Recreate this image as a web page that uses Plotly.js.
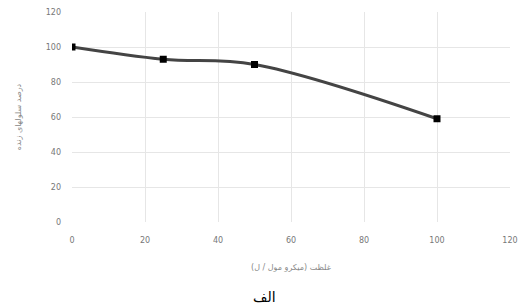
<!DOCTYPE html>
<html><head><meta charset="utf-8">
<script src="https://cdn.plot.ly/plotly-3.0.1.min.js"></script>
<style>html,body{margin:0;padding:0;background:#fff}#c{width:525px;height:308px}</style>
</head><body><div id="c"></div>
<script>
const concentration = [0, 25, 50, 100];
const viability = [100, 93, 90, 59];
const xTicks = [0, 20, 40, 60, 80, 100, 120];
const yTicks = [0, 20, 40, 60, 80, 100, 120];
const xTitle = 'غلظت (میکرو مول / ل)';
const yTitle = 'درصد سلولهای زنده';
const caption = 'الف';

Plotly.newPlot('c', [{
  x: concentration, y: viability, type: 'scatter', mode: 'lines+markers',
  line: {color: '#444', width: 3, shape: 'spline', smoothing: 1},
  marker: {symbol: 'square', size: 7, color: '#000'}
}], {
  width: 525, height: 308,
  margin: {l: 72, r: 15, t: 12, b: 86},
  paper_bgcolor: '#fff', plot_bgcolor: '#fff',
  showlegend: false,
  font: {family: 'DejaVu Sans', color: '#777', size: 8},
  xaxis: {range: [0, 120], tickvals: xTicks, showgrid: true, gridcolor: '#e6e6e6', zeroline: false,
    showline: false, ticks: '', ticklabelstandoff: 12, tickfont: {size: 8, color: '#777'},
    title: {text: xTitle, font: {size: 8, color: '#888'}, standoff: 20}},
  yaxis: {range: [0, 120], tickvals: yTicks, showgrid: true, gridcolor: '#e6e6e6', zeroline: false,
    showline: false, ticks: '', ticklabelstandoff: 10, tickfont: {size: 8, color: '#777'},
    title: {text: yTitle, font: {size: 8, color: '#888'}, standoff: 22}},
  annotations: [{text: caption, xref: 'paper', yref: 'paper', x: 0.44, y: -0.355,
    xanchor: 'center', yanchor: 'middle', showarrow: false,
    font: {size: 14, color: '#000', family: 'DejaVu Sans'}}]
}, {displayModeBar: false});
</script></body></html>
